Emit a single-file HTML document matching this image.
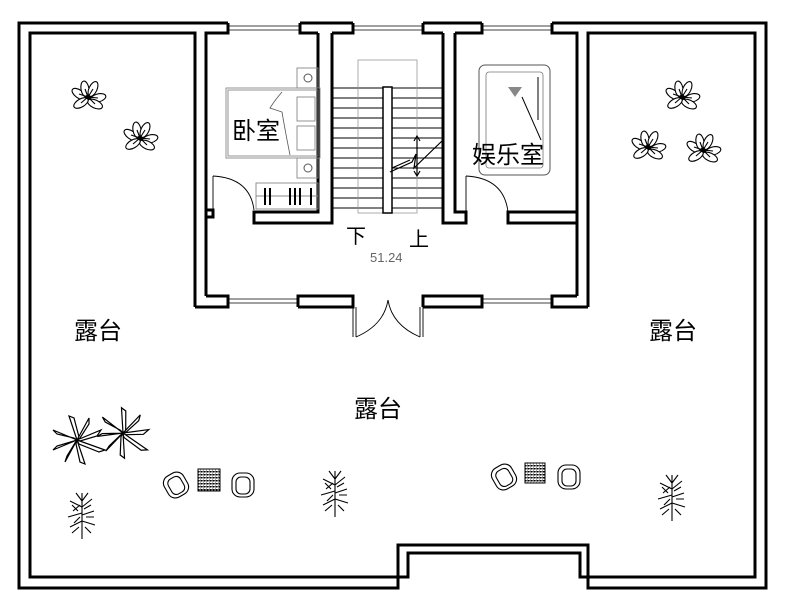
<!DOCTYPE html>
<html><head><meta charset="utf-8"><style>
html,body{margin:0;padding:0;background:#fff}
svg{display:block}
text{font-family:"Liberation Sans","Noto Sans CJK SC",sans-serif}
</style></head><body>
<svg width="789" height="607" viewBox="0 0 789 607" xmlns="http://www.w3.org/2000/svg">
<defs>
<g id="flower" fill="#fff" stroke="#000" stroke-width="1.1">
<ellipse cx="-9" cy="-3" rx="8" ry="4" transform="rotate(35 -9 -3)"/>
<ellipse cx="-3" cy="-8" rx="4" ry="8" transform="rotate(-10 -3 -8)"/>
<ellipse cx="5" cy="-8" rx="4" ry="8" transform="rotate(25 5 -8)"/>
<ellipse cx="10" cy="1" rx="8" ry="4" transform="rotate(-15 10 1)"/>
<ellipse cx="7" cy="7" rx="8" ry="4" transform="rotate(25 7 7)"/>
<ellipse cx="-7" cy="6" rx="8" ry="4" transform="rotate(-30 -7 6)"/>
<path d="M-9 -3 L0 0 M-3 -8 L0 0 M5 -8 L0 0 M10 1 L0 0 M7 7 L0 0 M-7 6 L0 0"/>
<circle cx="0" cy="0" r="2" fill="#000"/>
</g>
<g id="palm" fill="#fff" stroke="#000" stroke-width="1.2">
<path d="M0 0 L-24 -10 L-20 -6 L-3 -2 Z"/><path d="M0 0 L-8 -24 L-3 -22 L2 -3 Z"/>
<path d="M0 0 L12 -22 L12 -16 L3 -2 Z"/><path d="M0 0 L24 -10 L20 -4 L3 1 Z"/>
<path d="M0 0 L28 10 L22 12 L2 4 Z"/><path d="M0 0 L8 24 L3 22 L-1 4 Z"/>
<path d="M0 0 L-12 22 L-10 16 L-2 3 Z"/><path d="M0 0 L-24 10 L-20 6 L-3 1 Z"/>
</g>
<g id="bamboo" fill="none" stroke="#000" stroke-width="1.1">
<path d="M0 -22 L0 24 M0 -8 L-12 -14 M0 -8 L10 -16 M0 -2 L-14 2 M0 0 L12 -4 M0 6 L-12 12 M0 6 L13 10 M0 -14 L-6 -22 M0 -14 L6 -22 M-4 -4 L-10 -10 M4 2 L12 2 M-3 12 L-10 18 M3 12 L9 18 M-2 -10 L-9 -4 M2 -6 L9 -10 M-2 2 L-8 8"/>
</g>
<g id="chair" fill="none" stroke="#000" stroke-width="1.1">
<rect x="-11" y="-12" width="22" height="24" rx="8"/>
<rect x="-7" y="-8" width="14" height="17" rx="5"/>
</g>
<pattern id="chk" width="3" height="3" patternUnits="userSpaceOnUse"><rect width="3" height="3" fill="#fff"/><path d="M0 0H3V3" fill="none" stroke="#000" stroke-width="0.7"/><rect width="1.5" height="1.5" fill="#000"/></pattern>
</defs>

<g fill="none" stroke="#000" stroke-width="3" stroke-linejoin="miter">
<polyline points="228,23 19,23 19,588 398,588 398,545 588,545 588,588 766,588 766,23 552,23"/>
<polyline points="195,307 195,33 30,33 30,577 408,577 408,553 580,553 580,577 755,577 755,33 588,33 588,307"/>
<line x1="300" y1="23" x2="353" y2="23"/><line x1="423" y1="23" x2="482" y2="23"/>
<polyline points="206,296 206,33 228,33 228,23"/>
<polyline points="300,23 300,33 318,33"/>
<polyline points="332,33 353,33 353,23"/>
<polyline points="423,23 423,33 443,33"/>
<polyline points="455,33 482,33 482,23"/>
<polyline points="552,23 552,33 577,33 577,296"/>
<polyline points="206,296 228,296 228,307 195,307"/>
<polyline points="298,307 298,296 353,296 353,307 298,307"/>
<polyline points="423,307 423,296 482,296 482,307 423,307"/>
<polyline points="577,296 552,296 552,307 588,307"/>
<polyline points="318,33 318,212 254,212 254,223 332,223 332,33"/>
<polyline points="206,210 213,210 213,217 206,217"/>
<polyline points="443,33 443,223 466,223 466,212 455,212 455,33"/>
<polyline points="577,212 508,212 508,223 577,223"/>
</g>
<g stroke="#000" stroke-width="0.8">
<line x1="228" y1="26" x2="300" y2="26"/><line x1="228" y1="30" x2="300" y2="30"/>
<line x1="353" y1="26" x2="423" y2="26"/><line x1="353" y1="30" x2="423" y2="30"/>
<line x1="482" y1="26" x2="552" y2="26"/><line x1="482" y1="30" x2="552" y2="30"/>
<line x1="228" y1="299" x2="298" y2="299"/><line x1="228" y1="303" x2="298" y2="303"/>
<line x1="482" y1="299" x2="552" y2="299"/><line x1="482" y1="303" x2="552" y2="303"/>
</g>
<g fill="none" stroke="#000" stroke-width="0.9">
<line x1="353" y1="307" x2="353" y2="337"/><line x1="423" y1="307" x2="423" y2="337"/>
<path d="M356 337 Q384 325 388 300"/><path d="M420 337 Q392 325 388 300"/>
<line x1="356" y1="307" x2="356" y2="337"/><line x1="420" y1="307" x2="420" y2="337"/>
<line x1="213" y1="210" x2="213" y2="176"/><path d="M213 176 Q250 178 254 210"/>
<line x1="466" y1="212" x2="466" y2="176"/><path d="M466 176 Q504 178 508 212"/>
</g>
<g stroke="#000" stroke-width="1">
<line x1="332" y1="88" x2="443" y2="88"/><line x1="332" y1="98" x2="443" y2="98"/>
<line x1="332" y1="108" x2="443" y2="108"/><line x1="332" y1="118" x2="443" y2="118"/>
<line x1="332" y1="128" x2="443" y2="128"/><line x1="332" y1="138" x2="443" y2="138"/>
<line x1="332" y1="148" x2="443" y2="148"/><line x1="332" y1="158" x2="443" y2="158"/>
<line x1="332" y1="168" x2="443" y2="168"/><line x1="332" y1="178" x2="443" y2="178"/>
<line x1="332" y1="188" x2="443" y2="188"/><line x1="332" y1="198" x2="443" y2="198"/>
<line x1="332" y1="208" x2="443" y2="208"/>
</g>
<rect x="358" y="60" width="59" height="153" fill="none" stroke="#999" stroke-width="0.8"/>
<rect x="383" y="87" width="9" height="126" fill="#fff" stroke="#000" stroke-width="1.5"/>
<g fill="none" stroke="#000" stroke-width="1.2">
<path d="M390 172 L412 162 L416 154 L414 168 L443 140"/>
<path d="M392 168 L410 160"/>
<line x1="417" y1="137" x2="417" y2="175"/>
<path d="M414 141 L417 136 L420 141 M414 171 L417 176 L420 171"/>
</g>
<g fill="none" stroke="#888" stroke-width="0.9">
<rect x="226" y="88" width="94" height="70"/><rect x="228" y="90" width="90" height="66"/>
<rect x="297" y="97" width="18" height="24"/><rect x="297" y="126" width="18" height="24"/>
<rect x="297" y="68" width="21" height="20"/><rect x="297" y="158" width="21" height="20"/>
<rect x="256" y="183" width="62" height="26"/><line x1="256" y1="196" x2="318" y2="196"/>
</g>
<circle cx="308" cy="78" r="4" fill="none" stroke="#555"/><circle cx="308" cy="168" r="4" fill="none" stroke="#555"/>
<path d="M282 92 Q275 100 270 108 L282 112 Q285 130 290 155" fill="none" stroke="#555" stroke-width="0.8"/>
<g stroke="#000" stroke-width="2"><line x1="265" y1="188" x2="265" y2="205"/><line x1="270" y1="188" x2="270" y2="205"/><line x1="290" y1="188" x2="290" y2="205"/><line x1="295" y1="188" x2="295" y2="205"/><line x1="300" y1="188" x2="300" y2="205"/><line x1="311" y1="188" x2="311" y2="205"/></g>
<rect x="479" y="65" width="71" height="110" rx="6" fill="none" stroke="#555" stroke-width="1"/>
<rect x="486" y="72" width="57" height="96" rx="3" fill="none" stroke="#777" stroke-width="0.8"/>
<line x1="538" y1="77" x2="538" y2="120" stroke="#000"/>
<line x1="522" y1="97" x2="541" y2="140" stroke="#000"/>
<path d="M508 87 L522 87 L515 97 Z" fill="#888"/>
<g font-size="24" fill="#000">
<text x="232" y="139">卧室</text>
<text x="472" y="163">娱乐室</text>
<text x="74" y="339">露台</text>
<text x="649" y="339">露台</text>
<text x="354" y="417">露台</text>
</g>
<text x="346" y="243" font-size="20">下</text>
<text x="409" y="246" font-size="20">上</text>
<text x="370" y="262" font-size="13" fill="#666">51.24</text>
<use href="#flower" x="88" y="97"/><use href="#flower" x="140" y="138"/>
<use href="#flower" x="682" y="97"/><use href="#flower" x="648" y="147"/><use href="#flower" x="703" y="150"/>
<use href="#palm" x="77" y="440"/><use href="#palm" x="123" y="433" transform="rotate(15 123 433)"/>
<use href="#bamboo" x="82" y="515"/><use href="#bamboo" x="335" y="493"/><use href="#bamboo" x="672" y="497"/>
<use href="#chair" x="176" y="485" transform="rotate(-30 176 485)"/>
<rect x="198" y="469" width="22" height="22" fill="url(#chk)" stroke="#000"/>
<use href="#chair" x="243" y="485"/>
<use href="#chair" x="504" y="477" transform="rotate(-30 504 477)"/>
<rect x="525" y="463" width="20" height="20" fill="url(#chk)" stroke="#000"/>
<use href="#chair" x="569" y="477"/>
</svg>
</body></html>
